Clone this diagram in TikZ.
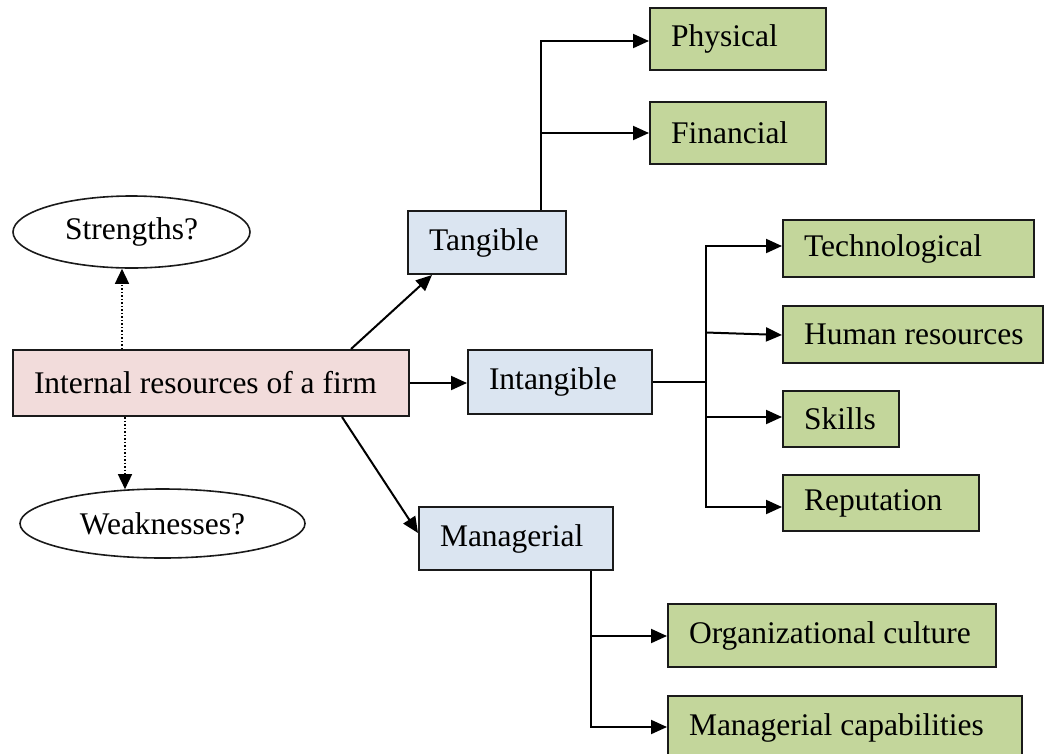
\documentclass[tikz,border=0pt]{standalone}
\usepackage{fontspec}
\setmainfont{Liberation Serif}
\usetikzlibrary{shapes.geometric,arrows.meta}
\definecolor{pinkfill}{HTML}{F2DCDB}
\definecolor{bluefill}{HTML}{DBE5F1}
\definecolor{greenfill}{HTML}{C3D69B}
\definecolor{edge}{HTML}{1A1A1A}
\newcommand{\lbx}[2]{\makebox[#1pt][l]{\hspace{21pt}\raisebox{-2pt}{#2}}}
\tikzset{
  base/.style={draw=edge, line width=2pt, inner xsep=0pt, inner ysep=0pt,
    font=\fontsize{31.5pt}{36pt}\selectfont},
  rootbox/.style={base, rectangle, fill=pinkfill},
  midbox/.style={base, rectangle, fill=bluefill},
  leafbox/.style={base, rectangle, fill=greenfill},
  qellipse/.style={base, ellipse, fill=white, line width=1.6pt},
  arr/.style={line width=2pt, -{Triangle[length=16pt,width=14pt]}},
  dotarr/.style={line width=1.5pt, dotted, -{Triangle[length=15pt,width=14pt]}},
  plain/.style={line width=2pt}
}
\begin{document}
\begin{tikzpicture}[x=1pt,y=-1pt]
\useasboundingbox (0,0) rectangle (1044,753);
% nodes
\node[rootbox, minimum width=396pt, minimum height=66pt] (internal) at (211,383) {\lbx{396}{Internal resources of a firm}};
\node[qellipse, minimum width=237pt, minimum height=72pt] (strengths) at (131.5,232) {\raisebox{-2pt}{Strengths?}};
\node[qellipse, minimum width=285pt, minimum height=69pt] (weaknesses) at (162.5,523.5) {\raisebox{-2pt}{Weaknesses?}};
\node[midbox, minimum width=158pt, minimum height=63pt] (tangible) at (487,242.5) {\lbx{158}{Tangible}};
\node[midbox, minimum width=184pt, minimum height=64pt] (intangible) at (560,382) {\lbx{184}{Intangible}};
\node[midbox, minimum width=194pt, minimum height=63pt] (managerial) at (516,538.5) {\lbx{194}{Managerial}};
\node[leafbox, minimum width=176pt, minimum height=62pt] (physical) at (738,39) {\lbx{176}{Physical}};
\node[leafbox, minimum width=176pt, minimum height=62pt] (financial) at (738,133) {\lbx{176}{Financial}};
\node[leafbox, minimum width=251pt, minimum height=57pt] (tech) at (908.5,248.5) {\lbx{251}{Technological}};
\node[leafbox, minimum width=260pt, minimum height=57pt] (human) at (913,334.5) {\lbx{260}{Human resources}};
\node[leafbox, minimum width=116pt, minimum height=56pt] (skills) at (841,419) {\lbx{116}{Skills}};
\node[leafbox, minimum width=196pt, minimum height=56pt] (reputation) at (881,503) {\lbx{196}{Reputation}};
\node[leafbox, minimum width=328pt, minimum height=63pt] (orgcult) at (832,635.5) {\lbx{328}{Organizational culture}};
\node[leafbox, minimum width=354pt, minimum height=64pt] (mancap) at (845,728) {\lbx{354}{Managerial capabilities}};
% dotted arrows
\draw[dotarr] ([xshift=110pt]internal.north west) -- ([xshift=110pt]internal.north west |- strengths.south);
\draw[dotarr] ([xshift=113pt]internal.south west) -- ([xshift=113pt,yshift=-1pt]internal.south west |- weaknesses.north);
% main arrows
\draw[arr] ([xshift=339pt]internal.north west) -- ([xshift=25pt]tangible.south west);
\draw[arr] (internal.east) -- (internal.east -| intangible.west);
\draw[arr] ([xshift=330pt]internal.south west) -- ([yshift=5.5pt]managerial.west);
% tangible branch
\coordinate (tbus) at ([xshift=134pt]tangible.north west);
\draw[arr] (tbus) |- ([yshift=-2pt]physical.west);
\draw[arr] (tbus |- financial.west) -- (financial.west);
% intangible branch
\coordinate (ibus) at (706,382);
\draw[plain] (intangible.east) -- (ibus);
\draw[arr] (ibus) |- ([yshift=2.5pt]tech.west);
\draw[arr] ([yshift=2pt]ibus |- human.west) -- ([yshift=-0.5pt]human.west);
\draw[arr] (ibus) |- ([yshift=2pt]skills.west);
\draw[arr] (ibus) |- ([yshift=-4pt]reputation.west);
% managerial branch
\coordinate (mbus) at ([xshift=173pt]managerial.south west);
\draw[arr] (mbus) |- ([yshift=1pt]mancap.west);
\draw[arr] ([yshift=-0.5pt]mbus |- orgcult.west) -- ([yshift=-0.5pt]orgcult.west);
\end{tikzpicture}
\end{document}
